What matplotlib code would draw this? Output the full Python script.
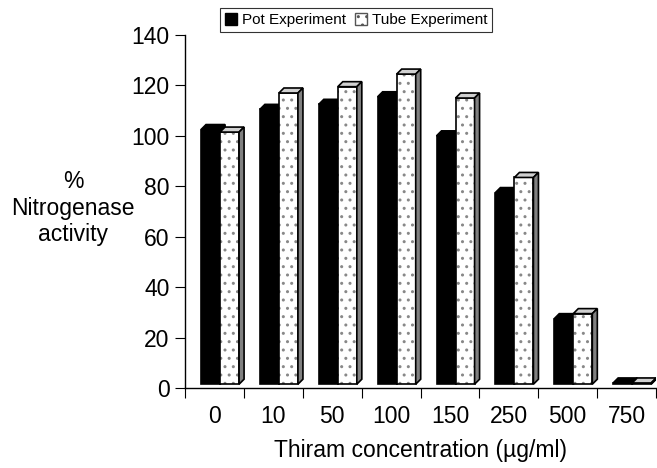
import numpy as np
import matplotlib.pyplot as plt
from matplotlib.patches import Polygon, Rectangle, Patch

plt.rcParams['font.family'] = ['Liberation Sans', 'DejaVu Sans']

categories = ['0', '10', '50', '100', '150', '250', '500', '750']
pot = [101, 109, 111, 114, 98.5, 76, 26, 0.5]
tube = [100, 115.5, 118, 123, 113.5, 82, 28, 0.5]

fig = plt.figure(figsize=(6.57, 4.68), dpi=100)
ax = fig.add_axes([185 / 657, 1 - 388 / 468, 471 / 657, 353 / 468])

n = len(categories)
ax.set_xlim(0, n)
ax.set_ylim(0, 140)

# 3D-look bars (front face + top + side)
w = 19 / 58.8
dx = 5 / 58.8
dy = 5 / 2.52
base = 1.5


def bar3d(x0, h, face, side, top, dotted):
    h = max(h, 0.3)
    ax.add_patch(Rectangle((x0, base), w, h, facecolor=face, edgecolor='none', zorder=3))
    if dotted:
        ax.add_patch(Rectangle((x0, base), w, h, facecolor='none', edgecolor='#888888',
                               hatch='..', lw=0, zorder=3))
    ax.add_patch(Rectangle((x0, base), w, h, facecolor='none', edgecolor='black', lw=1.2, zorder=3))
    t = Polygon([(x0, base + h), (x0 + dx, base + h + dy), (x0 + w + dx, base + h + dy), (x0 + w, base + h)],
                closed=True, facecolor=top, edgecolor='black', lw=1.2, zorder=3)
    ax.add_patch(t)
    s = Polygon([(x0 + w, base), (x0 + w + dx, base + dy), (x0 + w + dx, base + h + dy), (x0 + w, base + h)],
                closed=True, facecolor=side, edgecolor='black', lw=1.2, zorder=3)
    ax.add_patch(s)


off = 16 / 58.8
for i in range(n):
    x0 = i + off
    bar3d(x0, pot[i], 'black', 'black', 'black', False)
    bar3d(x0 + w, tube[i], 'white', '#808080', '#d0d0d0', True)

# axes styling
for sp in ['top', 'right']:
    ax.spines[sp].set_visible(False)
ax.spines['left'].set_linewidth(1.0)
ax.spines['bottom'].set_linewidth(1.0)
ax.set_yticks(np.arange(0, 141, 20))
ax.tick_params(axis='y', direction='out', length=7, labelsize=16.5, pad=4)
ax.set_xticks(np.arange(0, n + 1))
ax.set_xticklabels([])
ax.set_xticks(np.arange(n) + 0.5, minor=True)
ax.set_xticklabels(categories, minor=True)
ax.tick_params(axis='x', which='major', direction='out', length=7)
ax.tick_params(axis='x', which='minor', length=0, labelsize=16.5, pad=12)

ax.set_xlabel('Thiram concentration (\u00b5g/ml)', fontsize=16.5, labelpad=8)
fig.text(73 / 657, 1 - 208 / 468, '%\nNitrogenase\nactivity', ha='center', va='center',
         fontsize=16.5, linespacing=1.2)

# legend
handles = [Patch(facecolor='black', edgecolor='black'),
           Patch(facecolor='white', edgecolor='#555555', hatch='..')]
leg = fig.legend(handles, ['Pot Experiment', 'Tube Experiment'], loc='center',
                 bbox_to_anchor=(356 / 657, 1 - 20 / 468), ncol=2, fontsize=11,
                 frameon=True, fancybox=False, edgecolor='black', handlelength=0.8,
                 handleheight=0.8, handletextpad=0.3, columnspacing=0.6,
                 borderpad=0.3, borderaxespad=0)
leg.get_frame().set_linewidth(0.8)

fig.savefig('out.png', dpi=100)
